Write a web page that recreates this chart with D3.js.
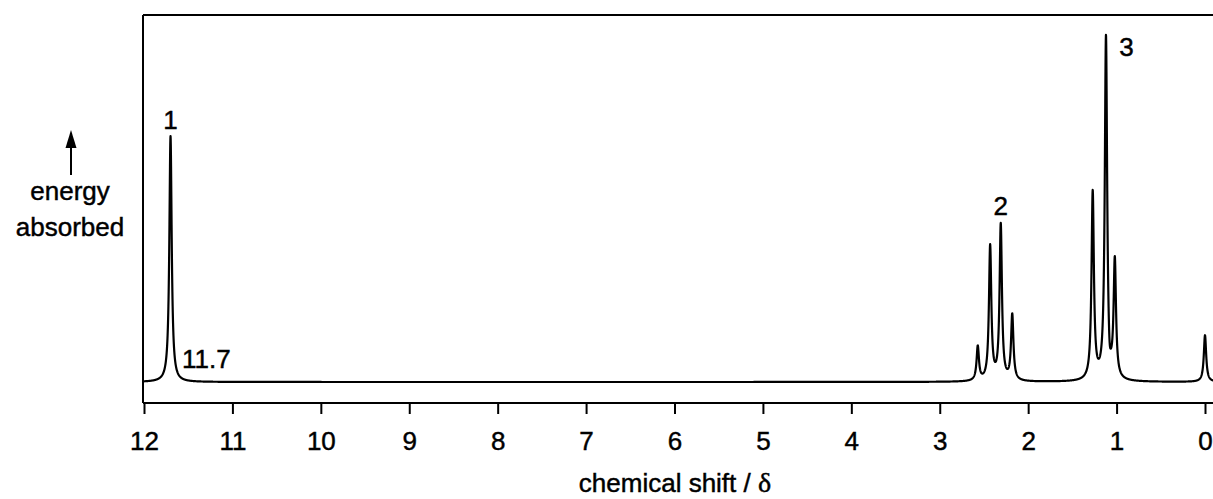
<!DOCTYPE html>
<html>
<head>
<meta charset="utf-8">
<script src="https://cdn.jsdelivr.net/npm/d3@7"></script>
<style>
  html, body { margin: 0; padding: 0; background: #fff; }
  svg { display: block; }
  text { font-family: "Liberation Sans", Arial, Helvetica, sans-serif; fill: #000; stroke: #000; stroke-width: 0.45px; }
</style>
</head>
<body>
<svg id="chart" width="1213" height="499"></svg>
<script>
// ---- data ----
const tickValues = [12, 11, 10, 9, 8, 7, 6, 5, 4, 3, 2, 1, 0];
const peakShifts = [11.70, 2.57, 2.43, 2.31, 2.18, 1.27, 1.12, 1.08, 1.02, 0.00];
const peakIntensities = [67.0, 9.3, 36.6, 42.4, 17.9, 51.2, 93.8, -4.0, 32.0, 12.7];
const peakLabels = ["1", "2", "3"];
const peakLabelShifts = [11.70, 2.31, 0.97];
const peakLabelIntensities = [69.0, 45.4, 88.8];
const shiftNote = "11.7";
const xTitleText = "chemical shift / ";
const xTitleSymbol = "\u03B4";
const yTitleLines = ["energy", "absorbed"];

// ---- layout ----
const W = 1213, H = 499;
const frameLeft = 143, frameTop = 15, axisY = 403, baseY = 382;
const svg = d3.select("#chart");

const x = d3.scaleLinear().domain([12, 0]).range([144, 1205]);
const y = d3.scaleLinear().domain([0, 100]).range([baseY, frameTop]);

// spectrum trace: sum of Lorentzian lines at the read peak positions
const hw = 0.016;
const samples = d3.range(12.0, -0.1, -0.0015);
const trace = samples.map(d => {
  let v = 0;
  for (let i = 0; i < peakShifts.length; i++) {
    const dx = d - peakShifts[i];
    v += peakIntensities[i] * hw * hw / (dx * dx + hw * hw);
  }
  return [d, v];
});

// frame
svg.append("line").attr("x1", frameLeft).attr("x2", W).attr("y1", frameTop).attr("y2", frameTop)
  .attr("stroke", "#000").attr("stroke-width", 2);
svg.append("line").attr("x1", frameLeft).attr("x2", frameLeft).attr("y1", frameTop).attr("y2", axisY)
  .attr("stroke", "#000").attr("stroke-width", 2);
svg.append("line").attr("x1", frameLeft).attr("x2", W).attr("y1", axisY).attr("y2", axisY)
  .attr("stroke", "#000").attr("stroke-width", 2);

// axis
const axis = d3.axisBottom(x).tickValues(tickValues).tickSize(11).tickSizeOuter(0)
  .tickFormat(d3.format("d"));
const gAxis = svg.append("g").attr("transform", `translate(0,${axisY})`).call(axis);
gAxis.select(".domain").remove();
gAxis.selectAll(".tick line").attr("stroke", "#000").attr("stroke-width", 2);
gAxis.selectAll(".tick text").attr("y", 47).attr("dy", 0)
  .style("font-size", "26px").style("font-family", "'Liberation Sans', Arial, sans-serif")
  .attr("fill", "#000");

// spectrum
const line = d3.line().x(d => x(d[0])).y(d => y(d[1]));
svg.append("path").datum(trace).attr("d", line)
  .attr("fill", "none").attr("stroke", "#000").attr("stroke-width", 2.2)
  .attr("stroke-linejoin", "round");

// peak labels
svg.selectAll(".plabel").data(peakLabels).enter().append("text")
  .attr("class", "plabel")
  .attr("x", (d, i) => x(peakLabelShifts[i]))
  .attr("y", (d, i) => y(peakLabelIntensities[i]))
  .attr("text-anchor", (d, i) => i === 2 ? "start" : "middle")
  .style("font-size", "26px")
  .text(d => d);

svg.append("text").attr("x", x(11.57)).attr("y", 368)
  .style("font-size", "26px").text(shiftNote);

// y label with arrow
svg.append("line").attr("x1", 71).attr("x2", 71).attr("y1", 175).attr("y2", 140)
  .attr("stroke", "#000").attr("stroke-width", 2);
svg.append("path").attr("d", "M65.5,148 L71,130 L76.5,148 Z").attr("fill", "#000");
svg.selectAll(".ylab").data(yTitleLines).enter().append("text")
  .attr("x", 70).attr("y", (d, i) => 200 + i * 36)
  .attr("text-anchor", "middle").style("font-size", "26px").text(d => d);

// x title
const xt = svg.append("text").attr("x", 675).attr("y", 492).attr("text-anchor", "middle")
  .style("font-size", "26px");
xt.append("tspan").text(xTitleText);
xt.append("tspan").style("font-family", "'Liberation Serif', 'DejaVu Serif', serif")
  .style("font-size", "28px").text(xTitleSymbol);
</script>
</body>
</html>
